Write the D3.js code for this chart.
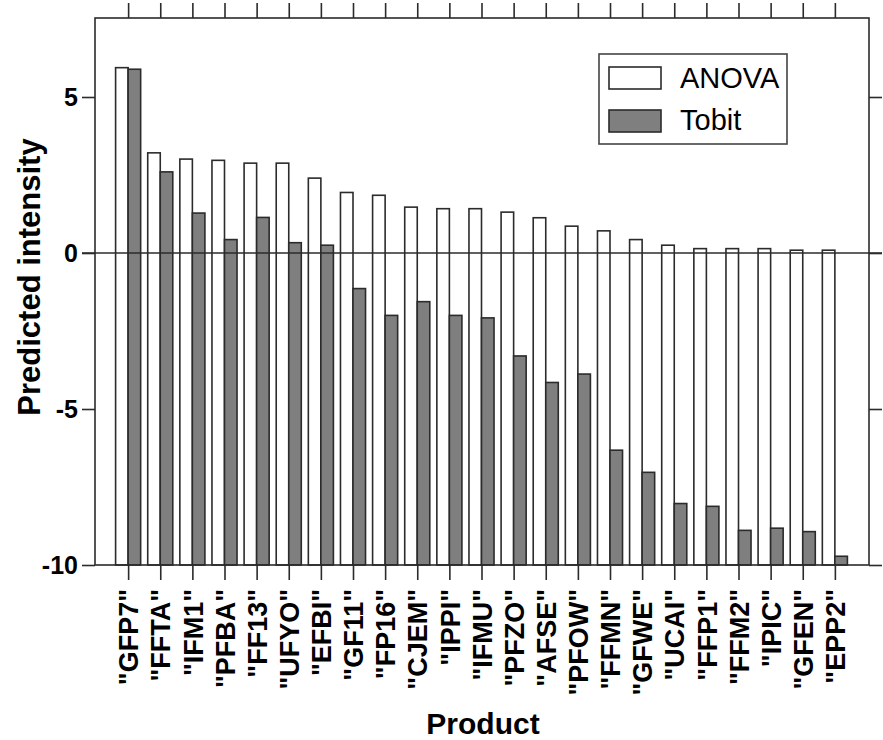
<!DOCTYPE html>
<html>
<head>
<meta charset="utf-8">
<script src="https://cdn.jsdelivr.net/npm/d3@7"></script>
<style>
  body { margin: 0; background: #fff; }
  svg { display: block; font-family: "Liberation Sans", Arial, sans-serif; }
</style>
</head>
<body>
<div id="chart"></div>
<script>
var products = ["GFP7", "FFTA", "IFM1", "PFBA", "FF13", "UFYO", "EFBI", "GF11", "FP16", "CJEM",
    "IPPI", "IFMU", "PFZO", "AFSE", "PFOW", "FFMN", "GFWE", "UCAI", "FFP1", "FFM2", "IPIC", "GFEN", "EPP2"];

var anova = [5.94, 3.21, 3.01, 2.97, 2.88, 2.88, 2.40, 1.94, 1.85, 1.47,
    1.42, 1.42, 1.31, 1.13, 0.86, 0.71, 0.43, 0.25, 0.14, 0.14, 0.14, 0.09, 0.09];

var tobit = [5.89, 2.60, 1.28, 0.43, 1.14, 0.33, 0.25, -1.14, -2.00, -1.56,
    -2.00, -2.08, -3.30, -4.15, -3.88, -6.32, -7.03, -8.03, -8.12, -8.89, -8.82, -8.93, -9.72];

var yTicks = [-10, -5, 0, 5];
var seriesNames = ["ANOVA", "Tobit"];
var seriesFill = ["#ffffff", "#7f7f7f"];

var width = 883,
    height = 740;

// plot box (window.top is reserved, so no plain "top" here)
var pLeft = 95, pRight = 869, pTop = 18, pBottom = 565;

var svg = d3.select("#chart").append("svg")
    .attr("width", width)
    .attr("height", height);

var x = d3.scaleLinear()
    .domain([0, products.length + 1])
    .range([96, 867]);

var y = d3.scaleLinear()
    .domain([-10, 7.5])
    .range([pBottom, pTop + 1]);

var barW = x(0.39) - x(0);
var stroke = "#2b2b2b";

// bars start at the bottom of the plot, not at zero
var g = svg.append("g");

g.selectAll(".anova")
    .data(anova)
    .enter()
    .append("rect")
    .attr("class", "anova")
    .attr("x", function (d, i) { return x(i + 1) - barW; })
    .attr("y", function (d) { return y(d); })
    .attr("width", barW)
    .attr("height", function (d) { return y(-10) - y(d); })
    .attr("fill", seriesFill[0])
    .attr("stroke", stroke)
    .attr("stroke-width", 1.6);

g.selectAll(".tobit")
    .data(tobit)
    .enter()
    .append("rect")
    .attr("class", "tobit")
    .attr("x", function (d, i) { return x(i + 1); })
    .attr("y", function (d) { return y(d); })
    .attr("width", barW)
    .attr("height", function (d) { return y(-10) - y(d); })
    .attr("fill", seriesFill[1])
    .attr("stroke", stroke)
    .attr("stroke-width", 1.6);

// zero reference line
svg.append("line")
    .attr("x1", pLeft - 13)
    .attr("x2", pRight + 13)
    .attr("y1", y(0))
    .attr("y2", y(0))
    .attr("stroke", stroke)
    .attr("stroke-width", 1.6);

// frame
svg.append("rect")
    .attr("x", pLeft)
    .attr("y", pTop)
    .attr("width", pRight - pLeft)
    .attr("height", pBottom - pTop)
    .attr("fill", "none")
    .attr("stroke", stroke)
    .attr("stroke-width", 1.6);

// axes
var tickIdx = d3.range(1, products.length + 1);

var xBottom = d3.axisBottom(x)
    .tickValues(tickIdx)
    .tickSize(15)
    .tickFormat(function (d) { return '"' + products[d - 1] + '"'; });

var xTop = d3.axisTop(x)
    .tickValues(tickIdx)
    .tickSize(15)
    .tickFormat("");

var yLeft = d3.axisLeft(y)
    .tickValues(yTicks)
    .tickSize(13)
    .tickPadding(4)
    .tickFormat(function (d) { return String(d); }); // plain hyphen, not U+2212

var yRight = d3.axisRight(y)
    .tickValues(yTicks)
    .tickSize(13)
    .tickFormat("");

function styleAxis(sel) {
    sel.select(".domain").remove();
    sel.selectAll(".tick line").attr("stroke", stroke).attr("stroke-width", 1.6);
}

var gb = svg.append("g")
    .attr("transform", "translate(0," + pBottom + ")")
    .call(xBottom)
    .call(styleAxis);

gb.selectAll(".tick text")
    .attr("transform", "rotate(-90)")
    .attr("x", -24)
    .attr("y", 0)
    .attr("dy", "0.36em")
    .style("text-anchor", "end")
    .style("font-size", "27px")
    .style("font-weight", "bold")
    .style("font-family", "'Liberation Sans', Arial, sans-serif")
    .attr("fill", "#000");

svg.append("g")
    .attr("transform", "translate(0," + pTop + ")")
    .call(xTop)
    .call(styleAxis);

var gl = svg.append("g")
    .attr("transform", "translate(" + pLeft + ",0)")
    .call(yLeft)
    .call(styleAxis);

gl.selectAll(".tick text")
    .style("font-size", "25px")
    .style("font-weight", "bold")
    .style("font-family", "'Liberation Sans', Arial, sans-serif")
    .attr("fill", "#000");

svg.append("g")
    .attr("transform", "translate(" + pRight + ",0)")
    .call(yRight)
    .call(styleAxis);

// axis titles
svg.append("text")
    .attr("transform", "translate(40," + 277 + ") rotate(-90)")
    .attr("text-anchor", "middle")
    .style("font-size", "31px")
    .style("font-weight", "bold")
    .text("Predicted intensity");

svg.append("text")
    .attr("x", 483)
    .attr("y", 734)
    .attr("text-anchor", "middle")
    .style("font-size", "30px")
    .style("font-weight", "bold")
    .text("Product");

// legend
var legend = svg.append("g");

legend.append("rect")
    .attr("x", 599)
    .attr("y", 54)
    .attr("width", 188)
    .attr("height", 90)
    .attr("fill", "#fff")
    .attr("stroke", "#444")
    .attr("stroke-width", 1.6);

seriesNames.forEach(function (name, i) {
    legend.append("rect")
        .attr("x", 609)
        .attr("y", 67 + i * 43)
        .attr("width", 52)
        .attr("height", 22)
        .attr("fill", seriesFill[i])
        .attr("stroke", stroke)
        .attr("stroke-width", 1.6);
    legend.append("text")
        .attr("x", 680)
        .attr("y", 88 + i * 42)
        .style("font-size", "29px")
        .text(name);
});
</script>
</body>
</html>
